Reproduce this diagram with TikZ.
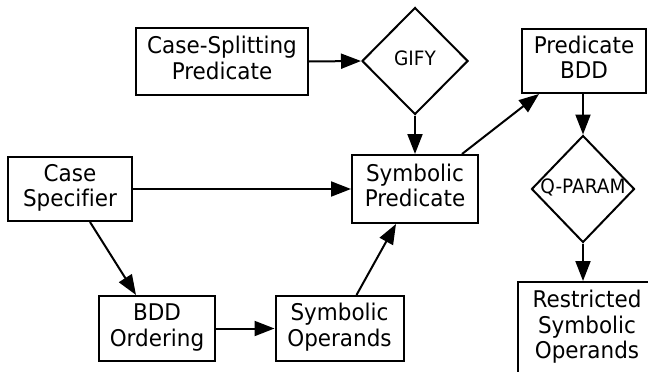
\documentclass[tikz,border=0pt]{standalone}
\usepackage{fontspec}
\usepackage{graphicx}
\setmainfont[Ligatures={NoCommon}]{DejaVu Sans}
\usetikzlibrary{arrows.meta,shapes.geometric}
% labels are set slightly taller than the font's natural proportions
\newcommand\tallstack[1]{\scalebox{1}[1.07]{\begin{tabular}{@{}c@{}}#1\end{tabular}}}
\begin{document}
\begin{tikzpicture}[x=1pt,y=-1pt,
  every node/.style={inner sep=0pt},
  box/.style={draw, line width=2pt, rectangle, font=\fontsize{21.5}{23.4}\selectfont},
  decision/.style={draw, line width=2pt, diamond, aspect=1},
  oplabel/.style={font=\fontsize{18.5}{21}\selectfont},
  flow/.style={line width=2pt, -{Triangle[length=20pt,width=15pt]}}]
  \useasboundingbox (0,0) rectangle (648,372);
  \clip (0,0) rectangle (648,372);

  % processing steps
  \node[box, minimum width=172pt, minimum height=67pt] (csp) at (222,61.5) {\tallstack{Case-Splitting\\Predicate}};
  \node[box, minimum width=124pt, minimum height=64pt] (pbdd) at (584,61) {\tallstack{Predicate\\BDD}};
  \node[box, minimum width=124pt, minimum height=64pt] (cs) at (70,189) {\tallstack{Case\\Specifier}};
  \node[box, minimum width=126pt, minimum height=68pt] (sp) at (415,189) {\tallstack{Symbolic\\Predicate}};
  \node[box, minimum width=116pt, minimum height=65pt] (bo) at (157,328.5) {\tallstack{BDD\\Ordering}};
  \node[box, minimum width=128pt, minimum height=65pt] (so) at (339.5,328.5) {\tallstack{Symbolic\\Operands}};
  \node[box, minimum width=138pt, minimum height=92pt] (rso) at (587,328) {\tallstack{Restricted\\Symbolic\\Operands}};

  % operations
  \node[decision, minimum width=106pt, minimum height=107pt] (gify) at (415,61) {};
  \node[oplabel] (gifylabel) at (gify.center) {\tallstack{GIFY}};
  \node[decision, minimum width=103pt, minimum height=107pt] (qp) at (583,189) {};
  \node[oplabel] (qplabel) at (qp.center) {\tallstack{Q-PARAM}};

  % data flow
  \draw[flow] (csp.east) -- (gify.west);
  \draw[flow] (gify.south) -- (gify.south |- sp.north);
  \draw[flow] (cs.east) -- (cs.east -| sp.west);
  \draw[flow] ([xshift=83pt]cs.south west) -- ([xshift=38pt]bo.north west);
  \draw[flow] (bo.east) -- (bo.east -| so.west);
  \draw[flow] ([xshift=82pt]so.north west) -- ([xshift=45pt]sp.south west);
  \draw[flow] ([xshift=-17pt]sp.north east) -- ([xshift=18pt]pbdd.south west);
  \draw[flow] (pbdd.south -| qp.north) -- (qp.north);
  \draw[flow] (qp.south) -- (qp.south |- rso.north);
\end{tikzpicture}
\end{document}
